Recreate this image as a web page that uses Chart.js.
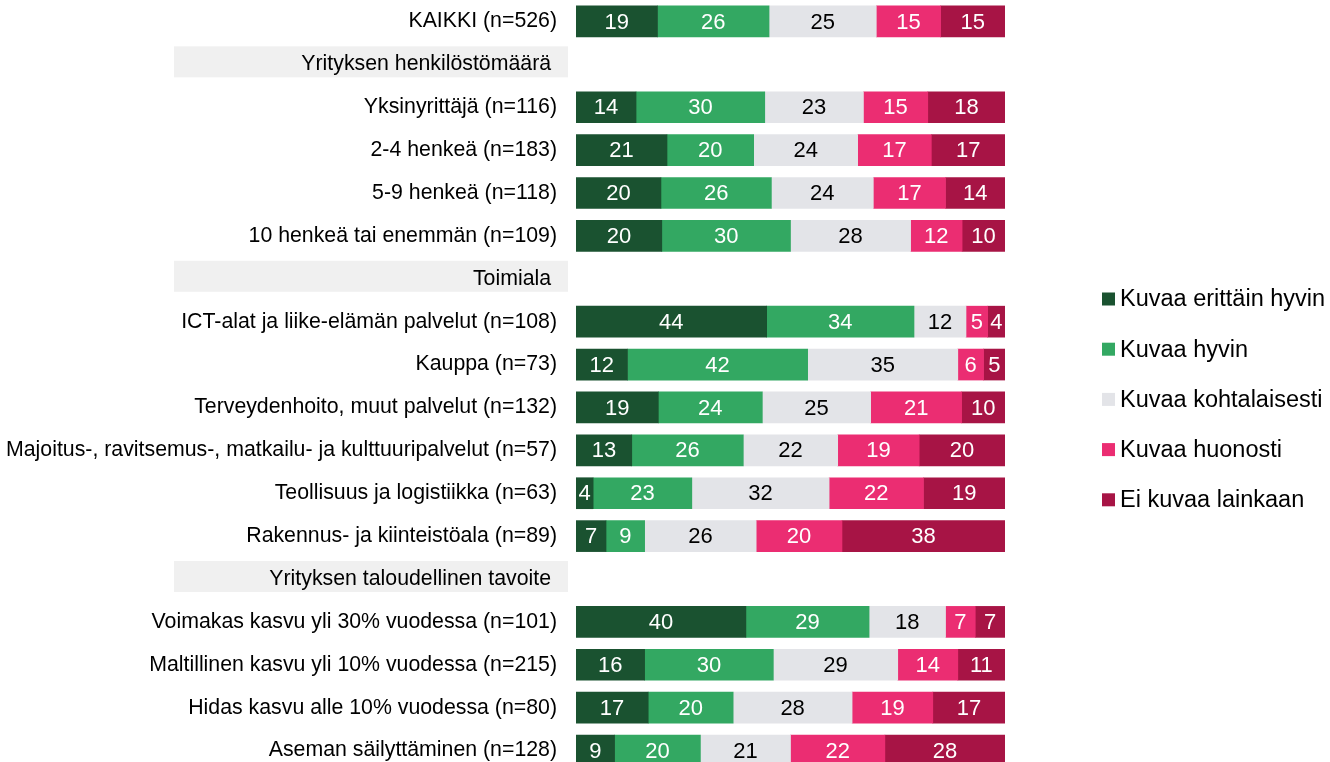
<!DOCTYPE html>
<html lang="fi">
<head>
    <meta charset="UTF-8">
    <title>Kuvaus</title>
    <style>
        html, body { margin: 0; padding: 0; background: #fff; overflow: hidden; }
        #wrap { width: 1330px; height: 762px; overflow: hidden; }
        canvas { display: block; }
    </style>
    <script src="https://cdn.jsdelivr.net/npm/chart.js"></script>
</head>
<body>
<div id="wrap"><canvas id="chart" width="1330" height="772"></canvas></div>
<script>
    const categories = [
        'KAIKKI (n=526)',
        'Yrityksen henkilöstömäärä',
        'Yksinyrittäjä (n=116)',
        '2-4 henkeä (n=183)',
        '5-9 henkeä (n=118)',
        '10 henkeä tai enemmän (n=109)',
        'Toimiala',
        'ICT-alat ja liike-elämän palvelut (n=108)',
        'Kauppa (n=73)',
        'Terveydenhoito, muut palvelut (n=132)',
        'Majoitus-, ravitsemus-, matkailu- ja kulttuuripalvelut (n=57)',
        'Teollisuus ja logistiikka (n=63)',
        'Rakennus- ja kiinteistöala (n=89)',
        'Yrityksen taloudellinen tavoite',
        'Voimakas kasvu yli 30% vuodessa (n=101)',
        'Maltillinen kasvu yli 10% vuodessa (n=215)',
        'Hidas kasvu alle 10% vuodessa (n=80)',
        'Aseman säilyttäminen (n=128)'
    ];
    const headerRows = [1, 6, 13];

    const seriesNames = ['Kuvaa erittäin hyvin', 'Kuvaa hyvin', 'Kuvaa kohtalaisesti', 'Kuvaa huonosti', 'Ei kuvaa lainkaan'];
    const erittainHyvin = [19, null, 14, 21, 20, 20, null, 44, 12, 19, 13, 4, 7, null, 40, 16, 17, 9];
    const hyvin = [26, null, 30, 20, 26, 30, null, 34, 42, 24, 26, 23, 9, null, 29, 30, 20, 20];
    const kohtalaisesti = [25, null, 23, 24, 24, 28, null, 12, 35, 25, 22, 32, 26, null, 18, 29, 28, 21];
    const huonosti = [15, null, 15, 17, 17, 12, null, 5, 6, 21, 19, 22, 20, null, 7, 14, 19, 22];
    const eiLainkaan = [15, null, 18, 17, 14, 10, null, 4, 5, 10, 20, 19, 38, null, 7, 11, 17, 28];

    const colors = ['#1a5230', '#33a862', '#e3e4e8', '#eb2d72', '#a71445'];
    const labelColors = ['#fff', '#fff', '#000', '#fff', '#fff'];
    const FONT = '"Liberation Sans", Arial, sans-serif';

    const raw = [erittainHyvin, hyvin, kohtalaisesti, huonosti, eiLainkaan];
    // rows are shown as 100 % stacks, rounded numbers don't always add up to 100
    const rowTotals = categories.map((c, j) => raw.reduce((s, arr) => s + (arr[j] || 0), 0));

    const headerBoxes = {
        id: 'headerBoxes',
        beforeDraw(chart) {
            const ctx = chart.ctx;
            const y = chart.scales.y;
            const left = chart.chartArea.left;
            ctx.save();
            ctx.fillStyle = '#f0f0f0';
            headerRows.forEach(i => {
                const cy = y.getPixelForValue(i);
                ctx.fillRect(left - 402, cy - 18, 394, 31);
            });
            ctx.restore();
        }
    };

    const valueLabels = {
        id: 'valueLabels',
        afterDatasetsDraw(chart) {
            const ctx = chart.ctx;
            ctx.save();
            ctx.font = '22px ' + FONT;
            ctx.textAlign = 'center';
            ctx.textBaseline = 'middle';
            chart.data.datasets.forEach((ds, i) => {
                chart.getDatasetMeta(i).data.forEach((bar, j) => {
                    const v = raw[i][j];
                    if (v == null) return;
                    const p = bar.getProps(['x', 'base', 'y'], true);
                    ctx.fillStyle = labelColors[i];
                    ctx.fillText(String(v), (p.x + p.base) / 2, p.y + 1);
                });
            });
            ctx.restore();
        }
    };

    const sideLegend = {
        id: 'sideLegend',
        afterDraw(chart) {
            const ctx = chart.ctx;
            ctx.save();
            ctx.font = '23.5px ' + FONT;
            ctx.textBaseline = 'middle';
            ctx.textAlign = 'left';
            seriesNames.forEach((name, i) => {
                const cy = 299 + i * 50.2;
                ctx.fillStyle = colors[i];
                ctx.fillRect(1102, cy - 6.5, 13, 13);
                ctx.fillStyle = '#000';
                ctx.fillText(name, 1120, cy + 1);
            });
            ctx.restore();
        }
    };

    new Chart(document.getElementById('chart'), {
        type: 'bar',
        data: {
            labels: categories,
            datasets: raw.map((arr, i) => ({
                label: seriesNames[i],
                data: arr.map((v, j) => v == null ? null : v / rowTotals[j] * 100),
                backgroundColor: colors[i],
                borderWidth: 0,
                barThickness: 31
            }))
        },
        options: {
            indexAxis: 'y',
            responsive: false,
            animation: false,
            events: [],
            layout: { padding: { left: 0, right: 325, top: 0, bottom: 0 } },
            scales: {
                x: { stacked: true, min: 0, max: 100, display: false },
                y: {
                    stacked: true,
                    grid: { display: false, drawTicks: false },
                    border: { display: false },
                    ticks: {
                        autoSkip: false,
                        padding: 19,
                        color: '#000',
                        font: { family: FONT, size: 21.3 },
                        callback: (v, i) => headerRows.includes(i) ? categories[i] + ' ' : categories[i]
                    },
                    afterFit(scale) {
                        scale.width = 576;
                        scale.paddingTop = 0;
                        scale.paddingBottom = 0;
                    }
                }
            },
            plugins: {
                legend: { display: false },
                tooltip: { enabled: false }
            }
        },
        plugins: [headerBoxes, valueLabels, sideLegend]
    });
</script>
</body>
</html>
